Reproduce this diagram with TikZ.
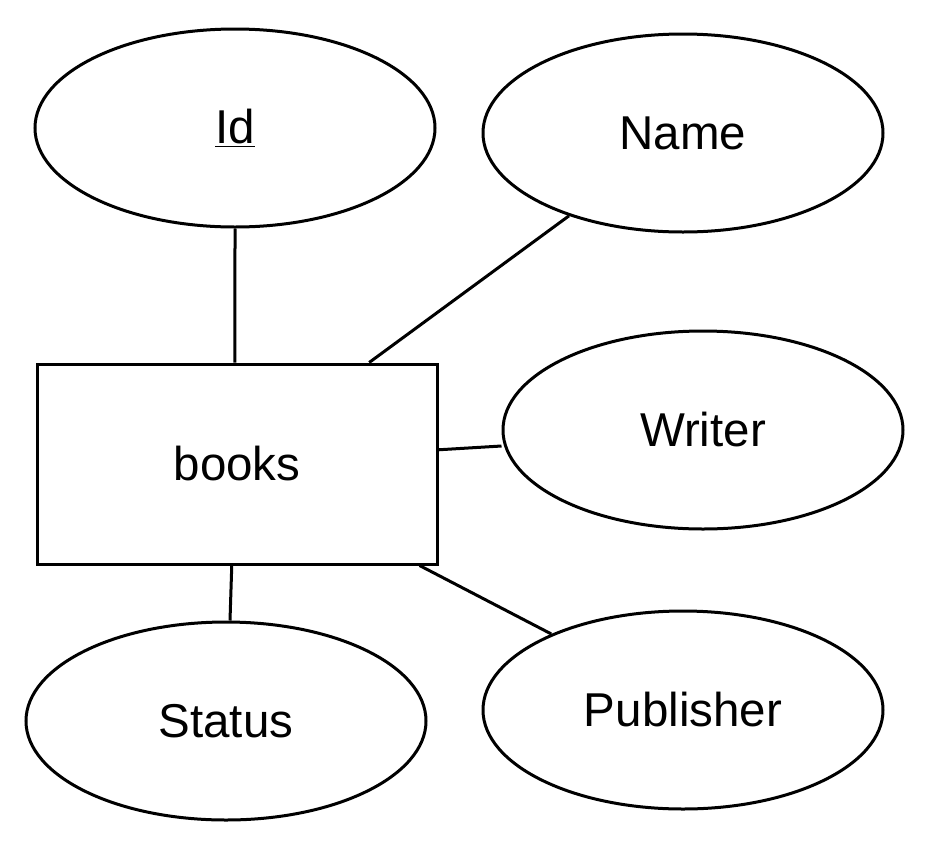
\documentclass[tikz,border=0pt]{standalone}
\usepackage{fontspec}
\setmainfont{Liberation Sans}
\usetikzlibrary{shapes.geometric,calc}
\begin{document}
\begin{tikzpicture}[x=1pt,y=-1pt,
  attr/.style={ellipse,draw,line width=3pt,minimum width=400pt,minimum height=198pt,inner sep=0pt,font=\fontsize{47.5}{56}\selectfont},
  entity/.style={rectangle,draw,line width=3pt,minimum width=400pt,minimum height=200pt,inner sep=0pt,font=\fontsize{47.5}{56}\selectfont},
  link/.style={line width=3pt}]
\useasboundingbox (0,0) rectangle (932,852);
\node[entity] (books) at (237,464) {books};
\node[attr] (id) at (235,128) {\underline{Id}};
\node[attr] (name) at (683,133) {Name};
\node[attr] (writer) at (703,430) {Writer};
\node[attr] (status) at (226,721) {Status};
\node[attr] (publisher) at (683,710) {Publisher};
\draw[link] (id.south) -- ($(books.north west)!0.495!(books.north east)$);
\draw[link] (name.216.5) -- ($(books.north west)!0.828!(books.north east)$);
\draw[link] (writer.west) ++(0,16) coordinate (wl) -- ($(books.north east)!0.43!(books.south east)$);
\draw[link] (status.north) ++(4,0) coordinate (st) -- ($(books.south west)!0.487!(books.south east)$);
\draw[link] (publisher.150.6) -- ($(books.south west)!0.953!(books.south east)$);
\end{tikzpicture}
\end{document}
